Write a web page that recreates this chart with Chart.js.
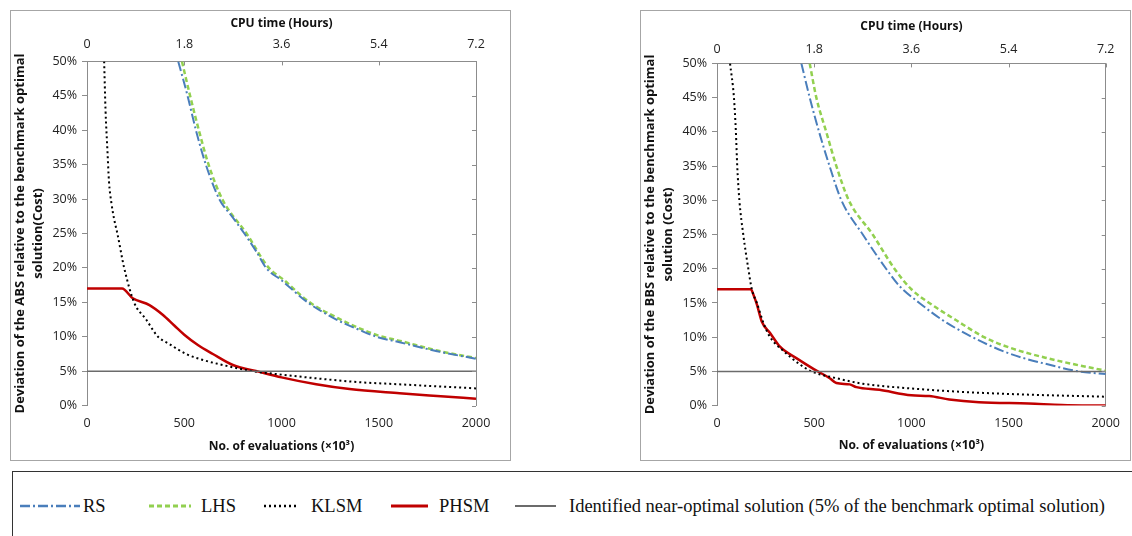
<!DOCTYPE html>
<html>
<head>
<meta charset="utf-8">
<script src="https://cdn.jsdelivr.net/npm/chart.js@4.4.0/dist/chart.umd.min.js"></script>
<style>
  body { margin: 0; background: #fff; width: 1132px; height: 536px; overflow: hidden; position: relative; }
  .panel { position: absolute; border: 1px solid #a6a6a6; box-sizing: border-box; background: #fff; }
  #legendBox { position: absolute; left: 12px; top: 471px; width: 1140px; height: 90px; border: 1px solid #333; box-sizing: border-box; }
  .lt { position: absolute; top: 21px; line-height: 26px;
        font-family: "Liberation Serif", "Times New Roman", serif; font-size: 18.5px; color: #111; white-space: nowrap; }
  .ls { position: absolute; top: 29px; }
</style>
</head>
<body>
<div class="panel" id="p1" style="left:10px;top:10px;width:501px;height:451px;"><canvas id="c1" width="499" height="449"></canvas></div>
<div class="panel" id="p2" style="left:640px;top:10px;width:491px;height:451px;"><canvas id="c2" width="489" height="449"></canvas></div>
<div id="legendBox"></div>

<script>
// ---------- data (x = No. of evaluations x10^3, y = deviation %) ----------
const absRsX   = [469, 517, 560, 611, 680, 750, 809, 870, 921, 1000, 1134, 1282, 1400, 1488, 1607, 1800, 2000];
const absRsY   = [50, 45, 40, 35, 30, 27.3, 25, 22.4, 20, 18.2, 15, 12.5, 11, 10, 9.2, 7.9, 6.8];
const absLhsX  = [488, 530, 575, 625, 695, 820, 935, 1010, 1140, 1290, 1495, 1610, 1800, 2000];
const absLhsY  = [50, 45, 40, 35, 30, 25, 20, 18.3, 15.1, 12.7, 10.2, 9.4, 8.0, 6.9];
const absKlsmX = [88, 95, 105, 113, 125, 140, 156, 191, 242, 304, 365, 420, 509, 600, 682, 853, 1000, 1200, 1400, 1600, 1800, 2000];
const absKlsmY = [50, 43, 37, 32.5, 29.5, 27, 25, 20, 15, 12.5, 10, 9, 7.5, 6.6, 6, 5, 4.5, 3.9, 3.4, 3.1, 2.8, 2.5];
const absPhsmX = [0, 180, 235, 321, 389, 450, 500, 570, 647, 750, 887, 1000, 1178, 1350, 1607, 1800, 2000];
const absPhsmY = [17, 17, 15.6, 14.6, 13.2, 11.6, 10.3, 8.8, 7.5, 5.9, 4.9, 4.1, 3.1, 2.4, 1.8, 1.4, 1.0];

const bbsRsX   = [434, 477, 525, 579, 640, 750, 870, 938, 1041, 1160, 1314, 1468, 1570, 1706, 1860, 2000];
const bbsRsY   = [50, 45, 40, 35, 30, 25, 20, 17.5, 15, 12.5, 10, 8, 7, 6, 5, 4.6];
const bbsLhsX  = [477, 511, 562, 614, 678, 801, 913, 1000, 1092, 1229, 1374, 1502, 1689, 1843, 2000];
const bbsLhsY  = [50, 45, 40, 35, 30, 25, 20, 17, 15, 12.5, 10, 8.5, 7, 6, 5.1];
const bbsKlsmX = [67, 87, 97, 104, 115, 135, 161, 179, 205, 240, 273, 341, 427, 486, 614, 750, 1000, 1263, 1604, 2000];
const bbsKlsmY = [50, 45, 40, 35, 30, 25, 20, 17, 15, 12, 10, 8, 6, 5, 4, 3.2, 2.5, 2.0, 1.6, 1.3];
const bbsPhsmX = [0, 174, 190, 205, 230, 273, 324, 410, 500, 580, 614, 683, 717, 836, 1000, 1092, 1195, 1348, 1604, 1775, 2000];
const bbsPhsmY = [17, 17, 16, 14.8, 12.3, 10.6, 8.6, 6.9, 5.3, 4.0, 3.3, 3.1, 2.7, 2.3, 1.5, 1.4, 0.9, 0.5, 0.3, 0.1, 0];

const nearOptX = [0, 2000];
const nearOptY = [5, 5];

const evalTicks = [0, 500, 1000, 1500, 2000];
const cpuTicks  = [0, 1.8, 3.6, 5.4, 7.2];

// ---------- styles ----------
const FONT = '"Open Sans", sans-serif';
const AX   = '#8c8c8c';
const sty = {
  RS:   { color: '#4a7ebb', dash: [10, 3, 2, 3], width: 2 },
  LHS:  { color: '#92d050', dash: [5, 3],        width: 2.5 },
  KLSM: { color: '#000000', dash: [2, 3],        width: 2 },
  PHSM: { color: '#c00000', dash: [],            width: 2.5 },
  REF:  { color: '#6b6b6b', dash: [],            width: 1.5 }
};

const pts = (xs, ys) => xs.map((x, i) => ({ x, y: ys[i] }));

function ds (label, xs, ys, s) {
  return { label, data: pts(xs, ys), borderColor: s.color, borderDash: s.dash,
           borderWidth: s.width, pointRadius: 0, fill: false,
           cubicInterpolationMode: 'monotone', xAxisID: 'x', yAxisID: 'y' };
}

// Excel-style tick marks pointing into the plot on the secondary axes
const innerTicks = {
  id: 'innerTicks',
  afterDatasetsDraw (chart) {
    const { ctx, chartArea: a, scales: { x2, y2 } } = chart;
    ctx.save();
    ctx.strokeStyle = AX; ctx.lineWidth = 1;
    ctx.beginPath();
    cpuTicks.slice(1).forEach(v => {
      const px = Math.round(x2.getPixelForValue(v)) + 0.5;
      ctx.moveTo(px, a.top); ctx.lineTo(px, a.top + 4);
    });
    y2.ticks.forEach(t => {
      const py = Math.round(y2.getPixelForValue(t.value)) + 0.5;
      ctx.moveTo(a.right, py); ctx.lineTo(a.right - 4, py);
    });
    ctx.stroke();
    ctx.restore();
  }
};

function makeChart (id, yTitle, series, pad, sp) {
  new Chart(document.getElementById(id), {
    type: 'line',
    data: { datasets: [
      ds('Identified near-optimal solution', nearOptX, nearOptY, sty.REF),
      ds('RS',   series[0], series[1], sty.RS),
      ds('LHS',  series[2], series[3], sty.LHS),
      ds('KLSM', series[4], series[5], sty.KLSM),
      ds('PHSM', series[6], series[7], sty.PHSM)
    ]},
    plugins: [innerTicks],
    options: {
      responsive: false, animation: false,
      layout: { padding: pad },
      plugins: { legend: { display: false }, tooltip: { enabled: false } },
      scales: {
        x: {
          type: 'linear', position: 'bottom', min: 0, max: 2000,
          afterBuildTicks: s => { s.ticks = evalTicks.map(v => ({ value: v })); },
          ticks: { color: '#222', font: { family: FONT, size: 12.5 }, padding: sp.bottomTick, maxRotation: 0,
                   callback: v => String(v) },
          grid: { display: false, drawTicks: false }, border: { display: false },
          title: { display: true, text: 'No. of evaluations (×10³)', color: '#111',
                   font: { family: FONT, size: 12, weight: 'bold' }, padding: { top: sp.bottomTitle, bottom: 0 } }
        },
        x2: {
          type: 'linear', position: 'top', min: 0, max: 7.2, display: true,
          afterBuildTicks: s => { s.ticks = cpuTicks.map(v => ({ value: v })); },
          ticks: { color: '#222', font: { family: FONT, size: 12.5 }, padding: sp.topTick, maxRotation: 0,
                   callback: v => String(+v.toFixed(1)) },
          grid: { drawOnChartArea: false, drawTicks: false },
          border: { color: AX },
          title: { display: true, text: 'CPU time (Hours)', color: '#111',
                   font: { family: FONT, size: 12, weight: 'bold' }, padding: { top: 0, bottom: sp.topTitle } }
        },
        y: {
          min: 0, max: 50,
          ticks: { stepSize: 5, color: '#222', font: { family: FONT, size: 12.5 }, padding: 5,
                   callback: v => v + '%' },
          grid: { drawOnChartArea: false, tickLength: 5, color: AX },
          border: { color: AX },
          title: { display: true, text: yTitle, color: '#111',
                   font: { family: FONT, size: 13, weight: 'bold', lineHeight: 1.4 }, padding: { top: 0, bottom: 0 } }
        },
        y2: {
          position: 'right', min: 0, max: 50, display: true,
          ticks: { display: false, stepSize: 5 },
          grid: { drawOnChartArea: false, drawTicks: false },
          border: { color: AX }
        }
      }
    }
  });
}

makeChart('c1',
  ['Deviation of the ABS relative to the benchmark optimal', 'solution(Cost)'],
  [absRsX, absRsY, absLhsX, absLhsY, absKlsmX, absKlsmY, absPhsmX, absPhsmY],
  { left: 0, right: 34, top: 5, bottom: 6 },
  { topTick: 9, topTitle: -2, bottomTick: 10, bottomTitle: -1 });

makeChart('c2',
  ['Deviation of the BBS relative to the benchmark optimal', 'solution (Cost)'],
  [bbsRsX, bbsRsY, bbsLhsX, bbsLhsY, bbsKlsmX, bbsKlsmY, bbsPhsmX, bbsPhsmY],
  { left: 0, right: 20, top: 8, bottom: 7 },
  { topTick: 6, topTitle: 3, bottomTick: 10, bottomTitle: -2 });

// ---------- shared legend ----------
const legendItems = [
  // name, style, sample left, sample width, text left  (box-relative)
  ['RS',   sty.RS,   7,   60, 70],
  ['LHS',  sty.LHS,  136, 42, 188],
  ['KLSM', sty.KLSM, 251, 34, 298],
  ['PHSM', sty.PHSM, 378, 37, 426],
  ['Identified near-optimal solution (5% of the benchmark optimal solution)', sty.REF, 502, 41, 556]
];
const box = document.getElementById('legendBox');
legendItems.forEach(([name, s, sl, sw, tl]) => {
  box.insertAdjacentHTML('beforeend',
    `<svg class="ls" style="left:${sl}px" width="${sw}" height="10"><line x1="0" y1="5" x2="${sw}" y2="5"
       stroke="${s.color}" stroke-width="${s.width + 0.5}" stroke-dasharray="${s.dash.join(' ')}"/></svg>
     <span class="lt" style="left:${tl}px">${name}</span>`);
});
</script>
</body>
</html>
